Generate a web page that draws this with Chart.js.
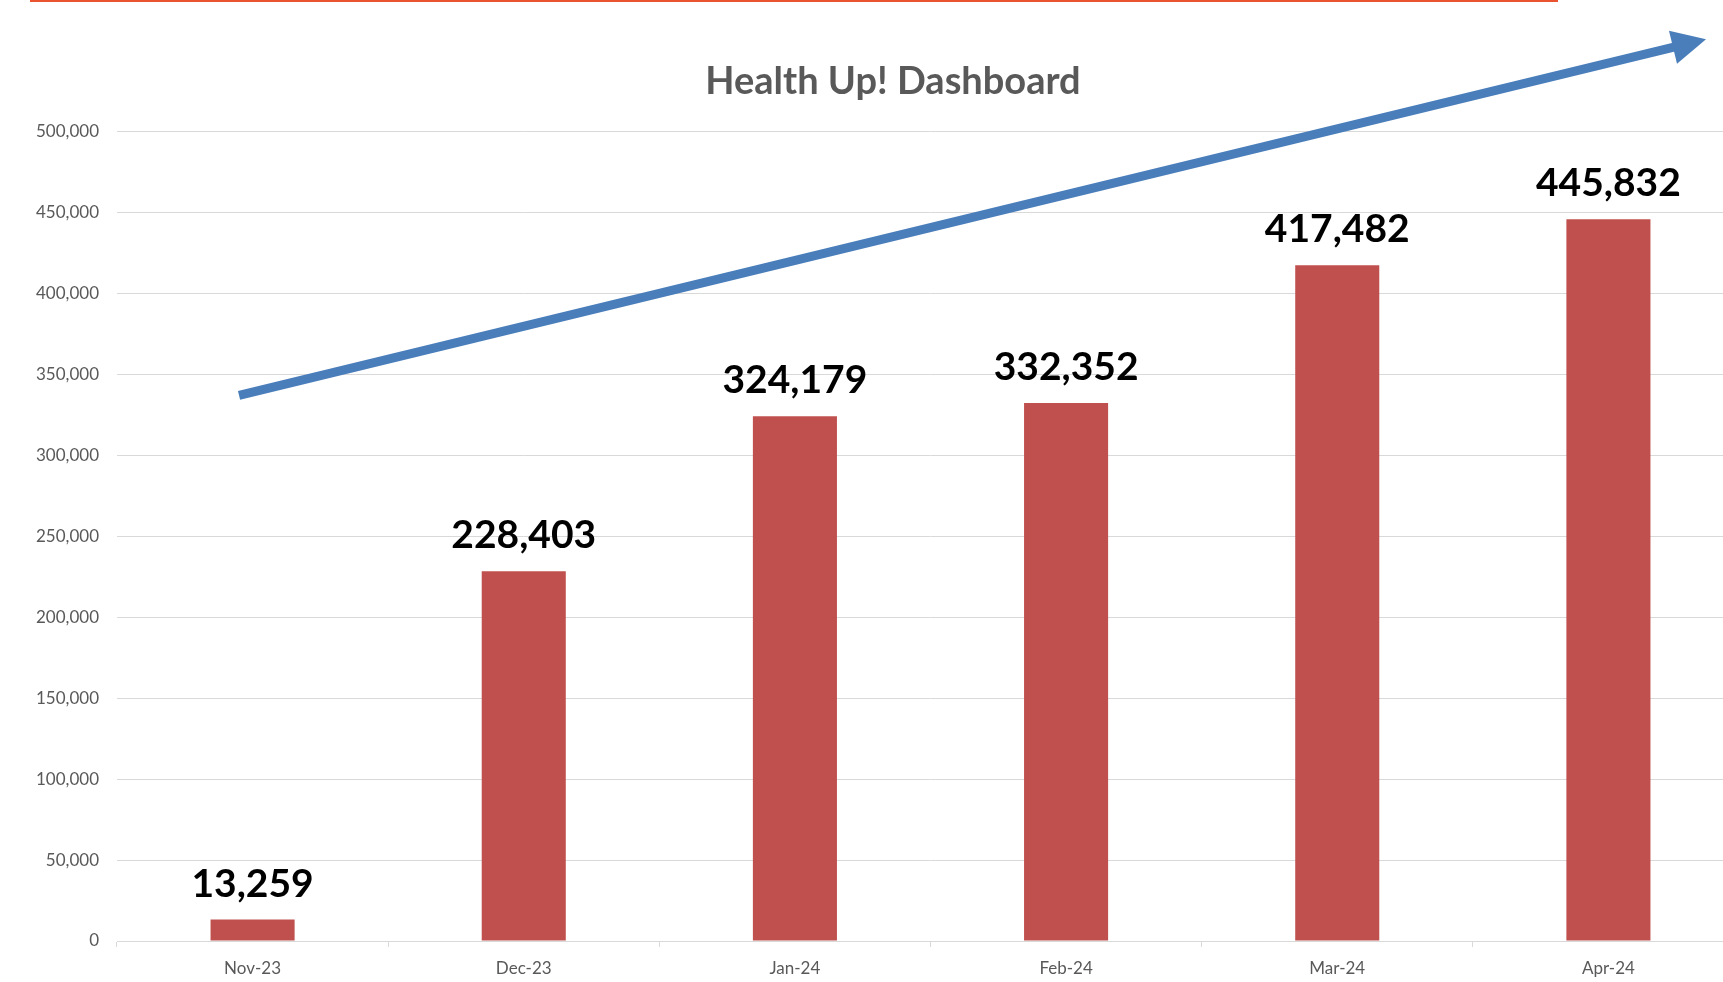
<!DOCTYPE html>
<html>
<head>
<meta charset="utf-8">
<title>Health Up! Dashboard</title>
<script src="https://cdn.jsdelivr.net/npm/chart.js@4/dist/chart.umd.min.js"></script>
<style>
    html, body { margin: 0; padding: 0; background: #fff; overflow: hidden; }
    #topRule { position: absolute; top: 0; left: 30px; width: 1528px; height: 2px; background: #e9532f; }
    #wrap { position: absolute; top: 0; left: 0; width: 1756px; height: 982px; }
</style>
</head>
<body>
<div id="wrap"><canvas id="dashChart"></canvas></div>
<div id="topRule"></div>
<script>
const months = ['Nov-23', 'Dec-23', 'Jan-24', 'Feb-24', 'Mar-24', 'Apr-24'];
const totals = [13259, 228403, 324179, 332352, 417482, 445832];
const yTicksMax = 500000;
const yTicksStep = 50000;

// trend arrow, in chart units (category index, value)
const arrowStart = { x: -0.05, y: 337000 };
const arrowEnd = { x: 5.36, y: 557000 };

const barRed = '#c0504d';
const arrowBlue = '#4a7ebb';
const greyText = '#595959';
const gridGrey = '#d9d9d9';

// value labels above bars
const valueLabels = {
    id: 'valueLabels',
    afterDatasetsDraw(chart) {
        const ctx = chart.ctx;
        const meta = chart.getDatasetMeta(0);
        ctx.save();
        ctx.font = 'bold 39px Lato';
        ctx.fillStyle = '#000';
        ctx.textAlign = 'center';
        ctx.textBaseline = 'alphabetic';
        meta.data.forEach((bar, i) => {
            ctx.fillText(totals[i].toLocaleString('en-US'), bar.x, bar.y - 23);
        });
        ctx.restore();
    }
};

// blue upward arrow
const trendArrow = {
    id: 'trendArrow',
    afterDraw(chart) {
        const x = chart.scales.x, y = chart.scales.y;
        const x0 = x.getPixelForValue(arrowStart.x), y0 = y.getPixelForValue(arrowStart.y);
        const x1 = x.getPixelForValue(arrowEnd.x), y1 = y.getPixelForValue(arrowEnd.y);
        const ang = Math.atan2(y1 - y0, x1 - x0);
        const headLen = 34, headHalf = 17;
        const bx = x1 - headLen * Math.cos(ang), by = y1 - headLen * Math.sin(ang);
        const ctx = chart.ctx;
        ctx.save();
        ctx.strokeStyle = arrowBlue;
        ctx.fillStyle = arrowBlue;
        ctx.lineWidth = 9;
        ctx.lineCap = 'butt';
        ctx.beginPath();
        ctx.moveTo(x0, y0);
        ctx.lineTo(bx + 2 * Math.cos(ang), by + 2 * Math.sin(ang));
        ctx.stroke();
        ctx.beginPath();
        ctx.moveTo(x1, y1);
        ctx.lineTo(bx + headHalf * Math.sin(ang), by - headHalf * Math.cos(ang));
        ctx.lineTo(bx - headHalf * Math.sin(ang), by + headHalf * Math.cos(ang));
        ctx.closePath();
        ctx.fill();
        ctx.restore();
    }
};

new Chart(document.getElementById('dashChart'), {
    type: 'bar',
    data: {
        labels: months,
        datasets: [{
            label: 'Health Up!',
            data: totals,
            backgroundColor: barRed,
            borderWidth: 0,
            categoryPercentage: 1,
            barPercentage: 0.31
        }]
    },
    options: {
        responsive: true,
        maintainAspectRatio: false,
        animation: false,
        layout: { padding: { left: 30, right: 0, top: 0, bottom: 4 } },
        plugins: {
            legend: { display: false },
            tooltip: { enabled: false },
            title: {
                display: true,
                text: 'Health Up! Dashboard',
                color: greyText,
                font: { family: 'Lato', size: 38, weight: 'bold' },
                padding: { top: 59, bottom: 27 }
            }
        },
        scales: {
            x: {
                afterFit(scale) { scale.height = 37; },
                grid: { drawOnChartArea: false, drawTicks: true, tickLength: 6, color: gridGrey },
                border: { color: gridGrey },
                ticks: { color: greyText, font: { family: 'Lato', size: 17 }, padding: 11 }
            },
            y: {
                min: 0,
                max: yTicksMax,
                afterFit(scale) { scale.width = 87; },
                grid: { color: gridGrey, drawTicks: false },
                border: { display: false },
                ticks: {
                    stepSize: yTicksStep,
                    color: greyText,
                    font: { family: 'Lato', size: 17 },
                    padding: 18,
                    callback: v => v.toLocaleString('en-US')
                }
            },
            // empty spacer on the right so the title sits where the original has it
            spacer: {
                type: 'linear',
                position: 'right',
                afterFit(scale) { scale.width = 12; },
                grid: { display: false },
                border: { display: false },
                ticks: { display: false }
            }
        }
    },
    plugins: [valueLabels, trendArrow]
});
</script>
</body>
</html>
